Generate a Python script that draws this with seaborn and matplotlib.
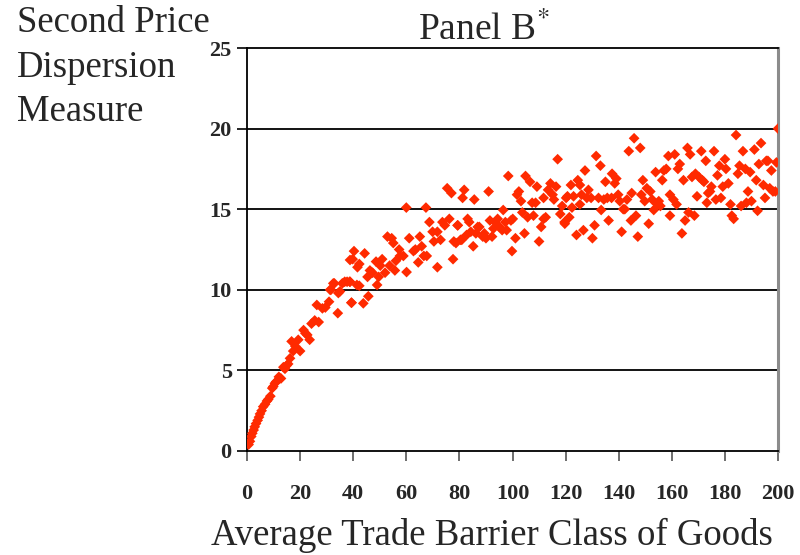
import matplotlib
matplotlib.use("Agg")
import matplotlib.pyplot as plt
import seaborn as sns
import pandas as pd

# ---- data ----
x_seg1 = [0.6, 1.1, 1.6, 2.0, 2.5, 2.9, 3.4, 4.0, 4.5, 4.9, 5.5, 6.1, 6.8, 7.5, 8.0,
          8.8, 9.5, 9.9, 10.5, 11.0, 12.0, 12.8, 13.7, 14.3, 14.9, 15.5, 16.2, 16.8,
          17.4, 18.2, 19.3, 20.0, 21.3, 22.0, 22.7, 23.6, 24.3, 25.5, 26.3, 27.0,
          28.4, 29.5, 30.9, 31.3, 31.6, 32.5, 32.9, 34.2, 34.4, 35.0, 35.9, 36.8,
          37.7, 38.7, 38.8, 39.3]
y_seg1 = [0.4, 0.6, 0.9, 1.1, 1.3, 1.5, 1.7, 1.9, 2.1, 2.3, 2.5, 2.75, 2.9, 3.1, 3.2,
          3.4, 3.9, 4.0, 4.2, 4.3, 4.6, 4.5, 5.2, 5.1, 5.3, 5.4, 5.75, 6.8,
          6.2, 6.5, 6.9, 6.2, 7.5, 7.3, 7.2, 6.9, 7.9, 8.1, 9.06, 8.0,
          8.85, 8.9, 9.26, 10.0, 10.0, 10.4, 10.4, 8.55, 9.8, 9.9, 10.4, 10.5,
          10.5, 10.5, 11.85, 9.2]

x_seg2 = [38.8, 39.4, 40.3, 39.8, 41.6, 42.3, 41.4, 42.3, 43.8, 44.3, 45.7, 45.4, 46.3,
          47.3, 48.6, 49.0, 49.6, 50.2, 50.9, 52.0, 52.9, 53.7, 54.5, 55.1, 56.1, 55.7,
          57.3, 57.6, 58.9, 60.1, 60.0, 61.1, 62.7, 63.4, 64.5, 65.1, 65.8, 66.6, 67.4,
          67.7, 68.7, 69.9, 70.4, 71.7, 71.7, 72.9, 73.6, 74.5, 75.4, 76.2, 77.0, 77.9,
          77.6, 79.4, 80.4]
y_seg2 = [10.5, 9.2, 12.4, 11.9, 11.4, 11.6, 10.3, 10.25, 9.16, 12.26, 9.6, 10.8, 11.2,
          11.06, 11.75, 10.3, 10.8, 11.5, 11.9, 11.06, 13.3, 11.5, 13.2, 12.9, 11.8, 11.2,
          12.5, 12.1, 12.1, 11.1, 15.1, 13.2, 12.4, 12.5, 11.7, 13.3, 12.7, 12.1, 15.1,
          12.1, 14.2, 13.6, 13.0, 13.6, 11.4, 13.1, 14.2, 14.0, 16.3, 14.4, 16.0, 13.0,
          11.9, 14.0, 13.1]

x_seg3 = [78.7, 79.3, 81.2, 81.8, 80.9, 82.7, 83.1, 83.7, 84.3, 85.2, 85.6, 86.2, 86.9,
          87.5, 88.8, 89.4, 90.0, 91.0, 91.5, 92.3, 92.8, 93.5, 94.4, 95.1, 96.1, 96.5,
          97.3, 97.8, 98.4, 99.4, 100.1, 99.8, 101.1, 101.7, 102.4, 103.2, 103.7, 104.5,
          104.9, 105.7, 106.6, 107.4, 107.9, 108.7, 109.2, 110.0, 110.8, 111.7, 112.5,
          111.7, 113.4, 114.3, 115.1, 115.6, 116.4, 117.0, 118.0, 118.7, 119.6]
y_seg3 = [12.9, 14.0, 15.7, 16.2, 13.1, 13.4, 14.4, 14.2, 13.6, 12.7, 15.6, 13.5, 13.9,
          13.9, 13.3, 13.5, 13.2, 16.1, 14.3, 13.3, 13.8, 14.2, 14.4, 13.9, 13.7, 14.95,
          14.2, 13.7, 17.06, 14.3, 14.4, 12.4, 13.2, 15.9, 16.1, 15.5, 14.8, 13.5,
          17.06, 14.5, 16.7, 15.4, 14.6, 15.4, 16.4, 13.0, 13.9, 14.4, 14.5,
          15.7, 16.2, 16.6, 15.9, 15.6, 16.4, 18.1, 14.7, 15.2, 14.2]

x_seg4 = [120.2, 119.7, 120.7, 121.4, 122.0, 122.4, 123.0, 124.1, 124.6, 125.4, 125.4,
          126.0, 126.7, 127.3, 128.0, 128.6, 129.6, 130.1, 130.9, 131.5, 132.4, 133.1,
          133.4, 134.4, 135.0, 135.7, 136.2, 137.3, 137.5, 138.5, 139.1, 139.8, 140.4,
          141.1, 141.7, 142.3, 143.1, 143.8, 144.6, 144.9, 145.8, 146.5, 147.2, 148.1,
          148.5, 149.1, 149.8, 150.6, 151.3, 151.9, 152.6, 153.2, 153.9, 154.5, 155.1,
          155.7, 156.4, 157.0, 157.9, 158.7]
y_seg4 = [15.7, 14.1, 15.8, 14.5, 16.5, 15.1, 15.8, 13.4, 16.8, 16.5, 15.3,
          15.9, 13.7, 17.4, 15.7, 16.2, 15.7, 13.2, 14.0, 18.3, 15.7, 17.7,
          14.95, 15.6, 16.7, 15.7, 14.3, 15.7, 17.2, 16.6, 16.9, 15.9, 15.5,
          13.6, 15.0, 15.0, 15.6, 18.6, 14.3, 16.0, 19.4, 14.6, 13.3, 18.8,
          15.9, 16.8, 15.5, 16.3, 14.1, 16.1, 15.6, 14.95, 17.3, 15.3, 15.5,
          15.2, 16.8, 17.4, 17.5, 18.3]

x_seg5 = [159.3, 159.3, 160.6, 161.1, 161.8, 162.3, 163.0, 163.8, 164.4, 165.0, 165.9,
          166.3, 166.9, 167.6, 168.5, 168.9, 169.5, 170.2, 171.1, 171.5, 172.1, 172.8,
          173.2, 173.7, 174.4, 174.9, 175.9, 176.6, 177.2, 177.9, 178.5, 179.2, 180.0,
          180.4, 181.3, 182.1, 182.6, 183.3, 184.2, 184.9, 185.5, 186.1, 186.8, 187.7,
          188.1, 188.7, 189.5, 190.0, 191.1, 191.8, 192.3, 192.8, 193.6, 194.5, 195.1,
          195.6, 196.2, 196.9, 197.5, 198.1, 199.0, 199.4, 200.0]
y_seg5 = [15.9, 14.6, 15.6, 18.4, 15.3, 17.5, 17.8, 13.5, 16.8, 14.3, 18.8,
          14.8, 18.4, 17.0, 14.6, 17.2, 15.8, 17.0, 18.6, 16.8, 16.7, 18.0,
          15.4, 16.0, 16.1, 16.4, 18.6, 15.6, 17.1, 17.7, 15.7, 16.4, 18.1,
          17.5, 16.6, 15.3, 14.6, 14.4, 19.6, 17.2, 17.7, 15.2, 18.6, 17.5,
          15.4, 16.1, 17.3, 15.5, 18.7, 16.8, 14.9, 17.8, 19.1, 16.5, 15.7,
          18.0, 18.0, 16.3, 17.4, 16.1, 16.1, 17.9, 20.0]

x_ticks = [0, 20, 40, 60, 80, 100, 120, 140, 160, 180, 200]
y_ticks = [0, 5, 10, 15, 20, 25]

title_text = "Panel B"
ylabel_lines = ["Second Price", "Dispersion", "Measure"]
xlabel_text = "Average Trade Barrier Class of Goods"

df = pd.DataFrame({
    "x": x_seg1 + x_seg2 + x_seg3 + x_seg4 + x_seg5,
    "y": y_seg1 + y_seg2 + y_seg3 + y_seg4 + y_seg5,
})

sns.set_theme(style="white")
plt.rcParams["font.family"] = ["Liberation Serif", "DejaVu Serif"]
plt.rcParams["mathtext.fontset"] = "stix"

fig = plt.figure(figsize=(8, 5.55), dpi=100)
ax = fig.add_axes([247 / 800, (555 - 451) / 555, 531 / 800, 403 / 555])

sns.scatterplot(data=df, x="x", y="y", ax=ax, marker="D", s=30,
                color="#FF2A00", edgecolor="none", linewidth=0, zorder=3)

ax.set_xlim(0, 200)
ax.set_ylim(0, 25)
ax.set_xticks(x_ticks)
ax.set_yticks(y_ticks)
ax.set_xticklabels([str(v) for v in x_ticks], fontsize=16, fontweight="bold")
ax.set_yticklabels([str(v) for v in y_ticks], fontsize=16, fontweight="bold")
ax.set_xlabel("")
ax.set_ylabel("")

for v in y_ticks[1:-1]:
    ax.axhline(v, color="black", linewidth=1.3, zorder=1)

ax.tick_params(axis="x", direction="out", length=7, width=1.2, color="#555555",
               pad=17, bottom=True)
ax.tick_params(axis="y", direction="out", length=7, width=1.2, color="black",
               pad=4, left=True)

for side in ["left", "bottom", "top"]:
    ax.spines[side].set_color("black")
    ax.spines[side].set_linewidth(1.3)
ax.spines["right"].set_color("#8c8c8c")
ax.spines["right"].set_linewidth(2.2)

fig.text(484 / 800, 1 - 30 / 555, title_text + r"$^{*}$", ha="center", va="center",
         fontsize=27)
fig.text(17 / 800, 1 - 6 / 555, "\n".join(ylabel_lines), ha="left", va="top",
         fontsize=26.5, linespacing=1.36)
fig.text(492 / 800, 1 - 535 / 555, xlabel_text, ha="center", va="center",
         fontsize=26.5)

fig.savefig("out.png", dpi=100)
